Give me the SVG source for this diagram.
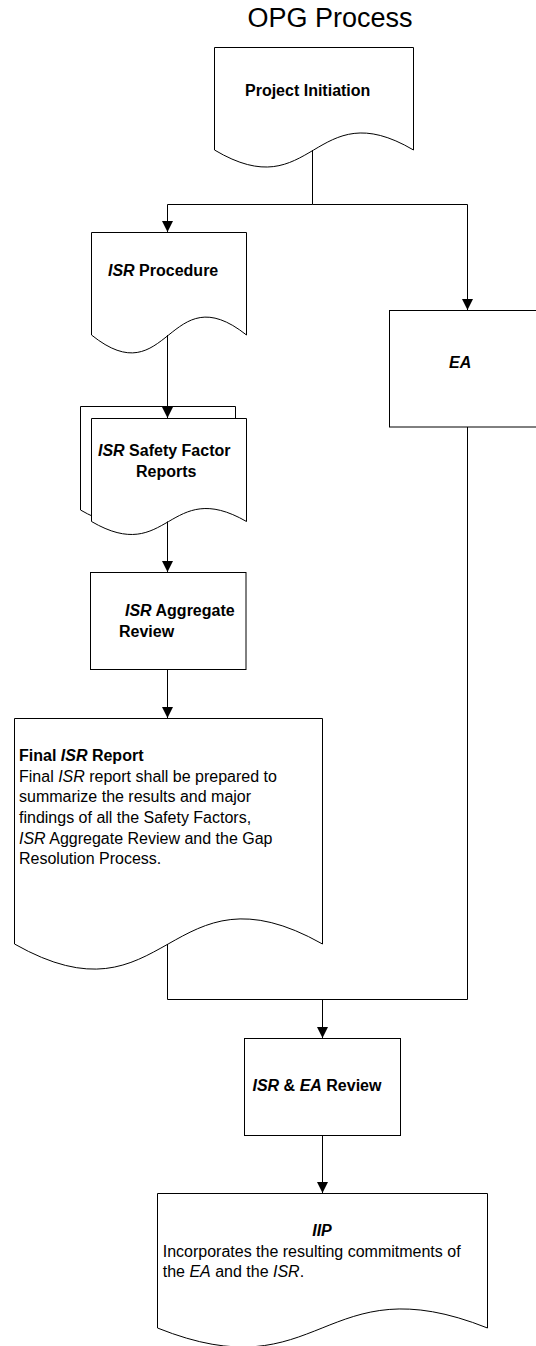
<svg xmlns="http://www.w3.org/2000/svg" width="536" height="1346" viewBox="0 0 536 1346">
<style>
.shape{fill:#fff;stroke:#000;stroke-width:1}
.conn{fill:none;stroke:#000;stroke-width:1}
text{font-family:"Liberation Sans",Arial,sans-serif;font-size:16px;fill:#000}
.b{font-weight:bold}
.i{font-style:italic}
.title{font-size:27px}
</style>
<defs>
<marker id="arr" markerUnits="userSpaceOnUse" markerWidth="12" markerHeight="12" refX="11" refY="5.5" orient="auto">
<path d="M0,0 L11,5.5 L0,11 Z" fill="#000"/>
</marker>
</defs>
<text class="title" x="330" y="27" text-anchor="middle">OPG Process</text>
<g id="project-initiation">
<path class="shape" d="M214.5,47.5 H413.5 V150 C313.5,91 313.5,209 214.5,150 Z"/>
<text class="b" x="245" y="96">Project Initiation</text>
</g>
<g id="isr-procedure">
<path class="shape" d="M91.5,232.5 H246.5 V335 C168.5,273 168.5,397 91.5,335 Z"/>
<text class="b" x="108" y="276"><tspan class="i">ISR</tspan> Procedure</text>
</g>
<g id="ea">
<rect class="shape" x="389.5" y="310.5" width="156" height="116.5"/>
<text class="b i" x="449" y="368">EA</text>
</g>
<g id="safety-factor-reports">
<path class="shape" d="M80.5,406.5 H235.5 V510 C157.5,465 157.5,555 80.5,510 Z"/>
<path class="shape" d="M91.5,418.5 H246.5 V521.5 C168.5,476.5 168.5,566.5 91.5,521.5 Z"/>
<text class="b" x="98" y="456"><tspan class="i">ISR</tspan> Safety Factor</text>
<text class="b" x="136" y="476.6">Reports</text>
</g>
<g id="aggregate-review">
<rect class="shape" x="90.5" y="572.5" width="155.5" height="97"/>
<text class="b" x="125" y="616"><tspan class="i">ISR</tspan> Aggregate</text>
<text class="b" x="119" y="636.6">Review</text>
</g>
<g id="final-isr-report">
<path class="shape" d="M14.5,718.5 H322.5 V944 C168,857 168,1031 14.5,944 Z"/>
<text class="b" x="19" y="761.1">Final <tspan class="i">ISR</tspan> Report</text>
<text x="19" y="781.7">Final <tspan class="i">ISR</tspan> report shall be prepared to</text>
<text x="19" y="802.3">summarize the results and major</text>
<text x="19" y="822.9">findings of all the Safety Factors,</text>
<text x="19" y="843.5"><tspan class="i">ISR</tspan> Aggregate Review and the Gap</text>
<text x="19" y="864.1">Resolution Process.</text>
</g>
<g id="isr-ea-review">
<rect class="shape" x="244.5" y="1038.5" width="156" height="97"/>
<text class="b" x="252.5" y="1091"><tspan class="i">ISR</tspan> &amp; <tspan class="i">EA</tspan> Review</text>
</g>
<g id="iip">
<path class="shape" d="M157.5,1193.5 H487.5 V1328 C322,1262 322,1394 157.5,1328 Z"/>
<text class="b i" x="322" y="1236" text-anchor="middle">IIP</text>
<text x="162.7" y="1256.6">Incorporates the resulting commitments of</text>
<text x="162.7" y="1277.2">the <tspan class="i">EA</tspan> and the <tspan class="i">ISR</tspan>.</text>
</g>
<g id="connectors">
<path class="conn" d="M312.5,150 V204.5 H167.5 V232" marker-end="url(#arr)"/>
<path class="conn" d="M312.5,204.5 H467.5 V310" marker-end="url(#arr)"/>
<path class="conn" d="M167.5,335 V418" marker-end="url(#arr)"/>
<path class="conn" d="M167.5,521.5 V572" marker-end="url(#arr)"/>
<path class="conn" d="M167.5,669 V718" marker-end="url(#arr)"/>
<path class="conn" d="M167.5,944 V999.5 H467.5"/>
<path class="conn" d="M467.5,427 V999.5"/>
<path class="conn" d="M322.5,999.5 V1038" marker-end="url(#arr)"/>
<path class="conn" d="M322.5,1135 V1193" marker-end="url(#arr)"/>
</g>
</svg>
